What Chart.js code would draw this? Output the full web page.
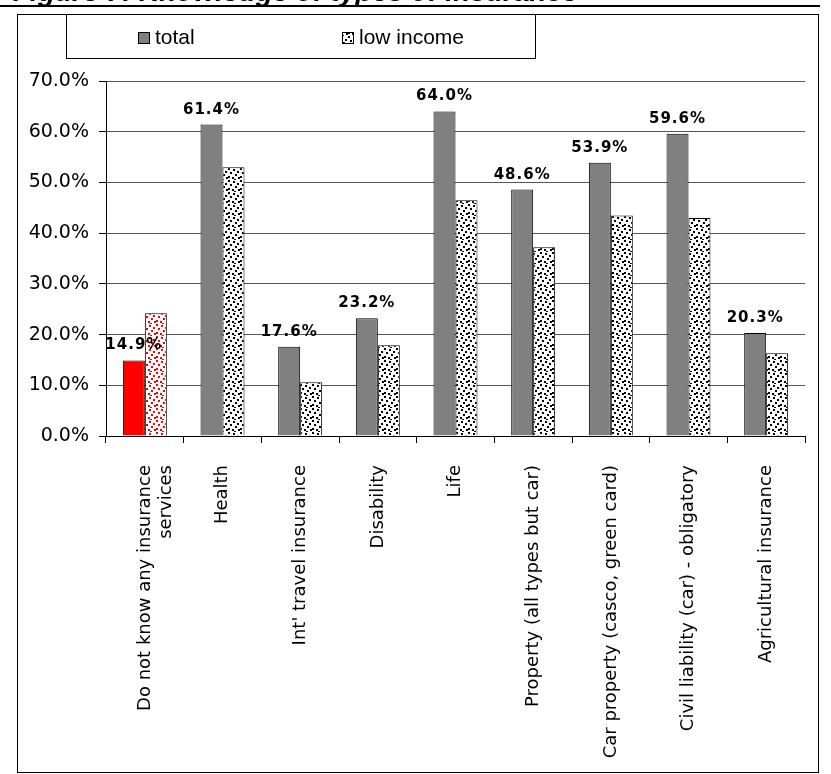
<!DOCTYPE html>
<html>
<head>
<meta charset="utf-8">
<script src="https://cdn.jsdelivr.net/npm/chart.js@4.4.1/dist/chart.umd.min.js"></script>
<style>
  html, body { margin: 0; padding: 0; background: #fff; }
  #wrap { position: relative; width: 831px; height: 774px; }
</style>
</head>
<body>
<div id="wrap"><canvas id="myChart" width="831" height="774"></canvas></div>
<script>
// data
const categories = [
  ['Do not know any insurance', 'services'],
  'Health',
  "Int' travel insurance",
  'Disability',
  'Life',
  'Property (all types but car)',
  'Car property (casco, green card)',
  'Civil liability (car) - obligatory',
  'Agricultural insurance'
];
const totalValues = [14.9, 61.4, 17.6, 23.2, 64.0, 48.6, 53.9, 59.6, 20.3];
const lowIncomeValues = [24.2, 53.0, 10.6, 17.9, 46.5, 37.2, 43.5, 43.0, 16.3];
const seriesNames = ['total', 'low income'];
const yTicks = [0, 10, 20, 30, 40, 50, 60, 70];
const titleText = 'Figure 7: Knowledge of types of insurance';

// dotted fill like the old excel pattern
function dotPattern (dotColor) {
  const c = document.createElement('canvas');
  c.width = 12; c.height = 12;
  const g = c.getContext('2d');
  g.fillStyle = '#fff';
  g.fillRect(0, 0, 12, 12);
  g.fillStyle = dotColor;
  const dots = [[0,0],[5,1],[9,3],[2,4],[7,6],[0,8],[4,9],[10,9],[6,11]];
  for (let d of dots) g.fillRect(d[0], d[1], 2, 2);
  return g.createPattern(c, 'repeat');
}
const blackDots = dotPattern('#000');
const redDots = dotPattern('#ff0000');

// frame, title line and the boxed legend
const decorations = {
  id: 'decorations',
  afterDraw (chart) {
    const ctx = chart.ctx;
    ctx.save();
    // cut-off title at the very top
    ctx.fillStyle = '#000';
    ctx.font = 'italic bold 28px "Liberation Sans", Arial, sans-serif';
    ctx.textBaseline = 'alphabetic';
    ctx.fillText(titleText, 13, 1);
    ctx.fillRect(0, 5, 820, 2);
    // outer box
    ctx.strokeStyle = '#000';
    ctx.lineWidth = 1;
    ctx.strokeRect(17.5, 14.5, 801, 758);
    // legend box
    ctx.strokeRect(66.5, 14.5, 469, 44);
    const items = [
      { x: 138, fill: '#808080' },
      { x: 342, fill: blackDots }
    ];
    ctx.font = '21px "Liberation Sans", Arial, sans-serif';
    ctx.textBaseline = 'middle';
    items.forEach((it, i) => {
      ctx.fillStyle = it.fill;
      ctx.fillRect(it.x, 32, 12, 12);
      ctx.strokeRect(it.x + 0.5, 32.5, 11, 11);
      ctx.fillStyle = '#000';
      ctx.fillText(chart.data.datasets[i].label, it.x + 17, 38);
    });
    ctx.restore();
  },
  afterDatasetsDraw (chart) {
    // value labels over the total bars
    const ctx = chart.ctx;
    const meta = chart.getDatasetMeta(0);
    ctx.save();
    ctx.fillStyle = '#000';
    ctx.font = 'bold 15px "DejaVu Sans", Verdana, sans-serif';
    ctx.letterSpacing = '1px';
    ctx.textAlign = 'center';
    ctx.textBaseline = 'alphabetic';
    meta.data.forEach((bar, i) => {
      const v = chart.data.datasets[0].data[i];
      ctx.fillText(v.toFixed(1) + '%', bar.x, bar.y - 11);
    });
    ctx.restore();
  }
};

const data = {
  labels: categories,
  datasets: [{
    label: seriesNames[0],
    data: totalValues,
    backgroundColor: totalValues.map((v, i) => i === 0 ? '#ff0000' : '#808080'),
    borderColor: '#000',
    borderWidth: 1
  }, {
    label: seriesNames[1],
    data: lowIncomeValues,
    backgroundColor: lowIncomeValues.map((v, i) => i === 0 ? redDots : blackDots),
    borderColor: '#000',
    borderWidth: 1
  }]
};

const config = {
  type: 'bar',
  data: data,
  options: {
    responsive: false,
    animation: false,
    devicePixelRatio: 1,
    layout: { padding: { left: 17, top: 81, right: 26, bottom: 2 } },
    datasets: { bar: { categoryPercentage: 0.566, barPercentage: 1 } },
    plugins: {
      legend: { display: false },
      tooltip: { enabled: false }
    },
    scales: {
      x: {
        afterFit (scale) { scale.height = 336; },
        grid: {
          offset: true,
          drawOnChartArea: true,
          color: ctx => ctx.index === categories.length ? '#000' : 'rgba(0,0,0,0)',
          tickColor: '#000',
          tickLength: 7
        },
        border: { color: '#000', width: 1 },
        ticks: {
          autoSkip: false,
          maxRotation: 90,
          minRotation: 90,
          padding: 22,
          color: '#000',
          font: { family: '"DejaVu Sans", Verdana, sans-serif', size: 18, lineHeight: 1.2 }
        }
      },
      y: {
        min: 0,
        max: 70,
        afterFit (scale) { scale.width = 89; },
        afterBuildTicks (scale) { scale.ticks = yTicks.map(v => ({ value: v })); },
        grid: { color: '#555', tickColor: '#000', tickLength: 7 },
        border: { color: '#000', width: 1 },
        ticks: {
          padding: 10,
          color: '#000',
          font: { family: '"DejaVu Sans", Tahoma, sans-serif', size: 19 },
          callback: v => v.toFixed(1) + '%'
        }
      }
    }
  },
  plugins: [decorations]
};

const myChart = new Chart(document.getElementById('myChart'), config);
</script>
</body>
</html>
